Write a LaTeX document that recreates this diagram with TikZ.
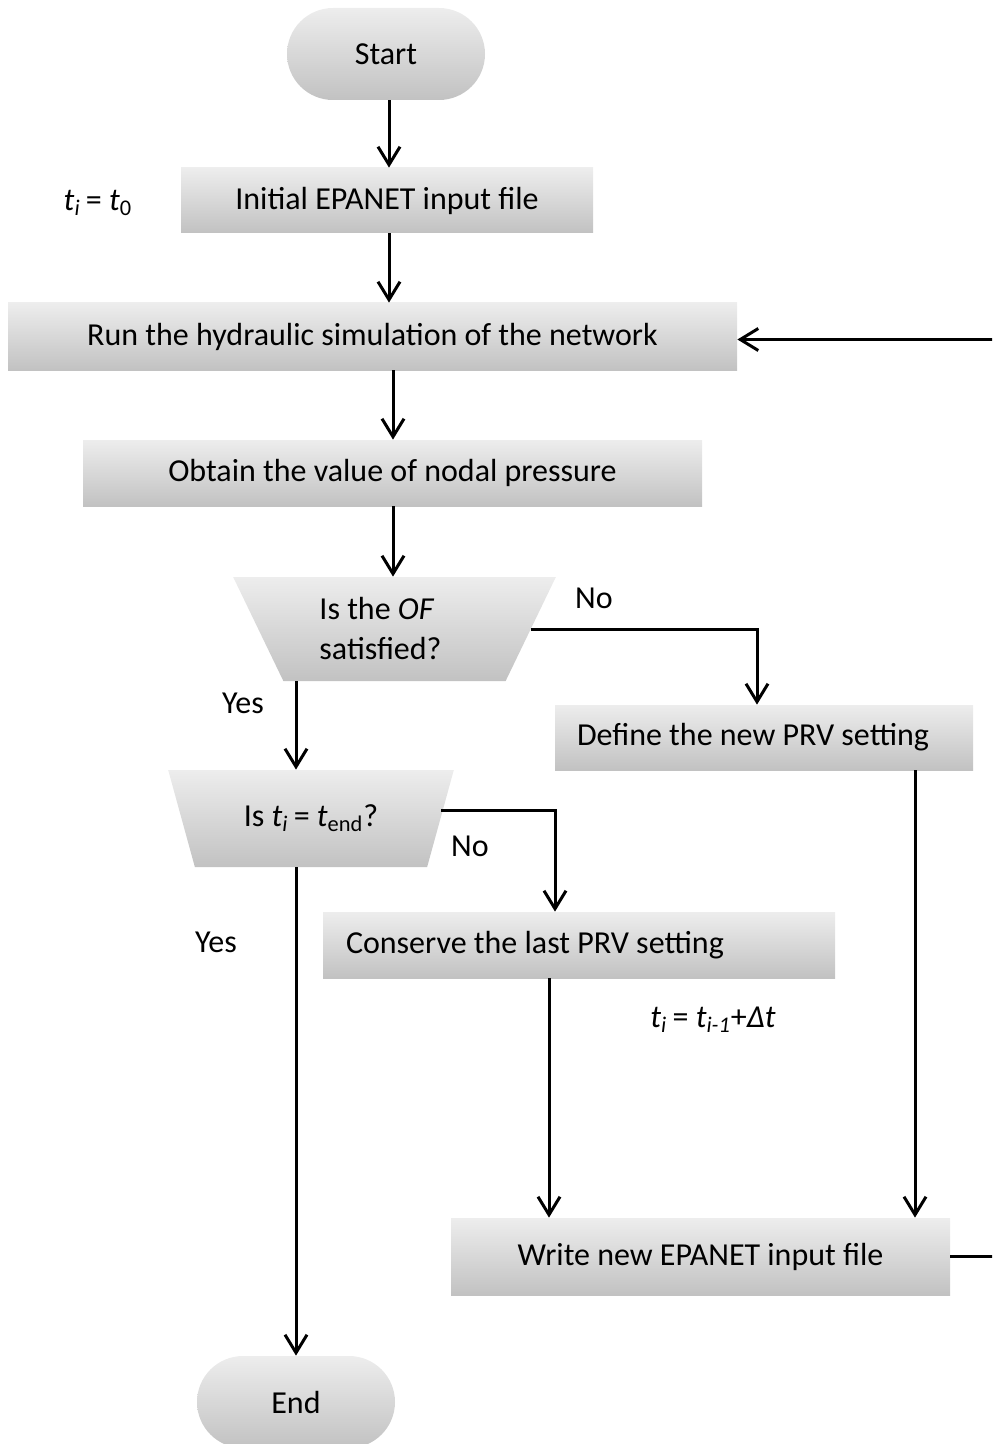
\documentclass[tikz,border=0pt]{standalone}
\usepackage{fontspec}
\setmainfont{Carlito}
\usetikzlibrary{arrows.meta,shapes.geometric,shapes.misc}
\begin{document}
\begin{tikzpicture}[x=0.5pt,y=-0.5pt,
  font=\fontsize{16}{20}\selectfont,
  fill box/.style={top color=gray!14, bottom color=gray!48, draw=none, inner sep=0pt},
  procbox/.style={fill box, rectangle},
  pill/.style={fill box, rounded rectangle},
  decide/.style={fill box, trapezium, shape border rotate=180, trapezium stretches=true, align=left},
  lefttext/.style={label={[anchor=west, xshift=#1, inner sep=0pt]west:}},
  arr/.style={line width=1.5pt, -{Straight Barb[length=9pt,width=11pt,line width=1.5pt]}},
  conn/.style={line width=1.5pt}]
\useasboundingbox (0,0) rectangle (992,1444);
\clip (0,0) rectangle (992,1444);

\node[pill, minimum width=99pt, minimum height=46pt] (start) at (386,54) {Start};
\node[procbox, minimum width=206pt, minimum height=32.5pt] (init) at (387,200.5) {Initial EPANET input file};
\node (t0) at (98,203) {\textit{t}\textsubscript{\textit{i}}\,= \textit{t}\textsubscript{0}};
\node[procbox, minimum width=364.5pt, minimum height=33.5pt] (run) at (372.5,336.5) {Run the hydraulic simulation of the network};
\node[procbox, minimum width=309.5pt, minimum height=33pt] (obtain) at (392.5,473) {Obtain the value of nodal pressure};
\node[decide, trapezium left angle=61.5, trapezium right angle=61.5, minimum width=161.5pt, minimum height=52pt] (q1) at (394.5,629) {Is the \textit{OF}\\satisfied?\hspace*{14pt}};
\node (no1) at (594,598) {No};
\node[procbox, minimum width=209pt, minimum height=32.5pt,
  label={[anchor=west, xshift=11pt, inner sep=0pt]west:Define the new PRV setting}] (define) at (764,737.5) {};
\node (yes1) at (243,703) {Yes};
\node[decide, trapezium left angle=60.4, trapezium right angle=60.4, minimum width=144pt, minimum height=48.5pt] (q2) at (311,818.5) {Is \textit{t}\textsubscript{\textit{i}}\,= \textit{t}\textsubscript{end}?};
\node (no2) at (470,846) {No};
\node (yes2) at (216,942) {Yes};
\node[procbox, minimum width=256pt, minimum height=33pt,
  label={[anchor=west, xshift=11.5pt, inner sep=0pt]west:Conserve the last PRV setting}] (conserve) at (579,945) {};
\node (dt) at (713,1020) {\textit{t}\textsubscript{\textit{i}}\,= \textit{t}\textsubscript{\textit{i-1}}+\textit{Δt}};
\node[procbox, minimum width=249.5pt, minimum height=38.5pt] (write) at (700.5,1256.5) {Write new EPANET input file};
\node[pill, minimum width=99pt, minimum height=46pt] (end) at (296,1402) {End};
\coordinate (loopx) at (997,0);

\draw[arr] (start.south -| 389,0) -- (init.north -| 389,0);
\draw[arr] (init.south -| 389,0) -- (run.north -| 389,0);
\draw[arr] (run.south -| 393,0) -- (obtain.north -| 393,0);
\draw[arr] (obtain.south -| 393,0) -- (q1.north -| 393,0);
\draw[arr] (q1.east) -| ([xshift=-3.5pt]define.north);
\draw[arr] (end.north |- q1.south) -- (end.north |- q2.north);
\draw[arr] ([yshift=4pt]q2.east) -| ([xshift=-12pt]conserve.north);
\draw[arr] (end.north |- q2.south) -- (end.north);
\draw[arr] ([xshift=-15pt]conserve.south) -- ([xshift=-15pt]conserve.south |- write.north);
\draw[arr] ([xshift=75.5pt]define.south) -- ([xshift=75.5pt]define.south |- write.north);
\draw[arr] (write.east) -- (write.east -| loopx) |- ([yshift=-1.5pt]run.east);
\end{tikzpicture}
\end{document}
